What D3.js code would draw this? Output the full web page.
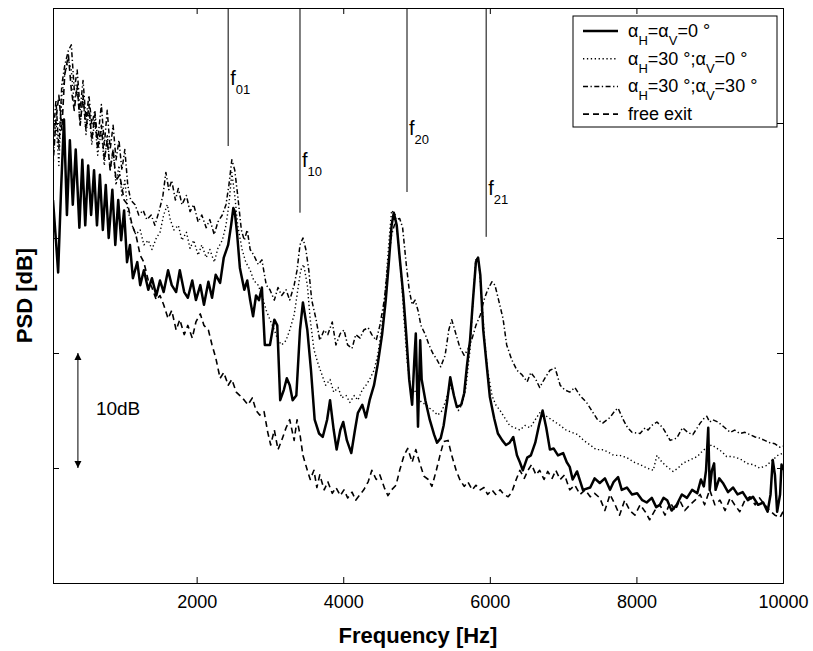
<!DOCTYPE html>
<html>
<head>
<meta charset="utf-8">
<script src="https://cdn.jsdelivr.net/npm/d3@7"></script>
<style>
  body { margin: 0; background: #fff; }
  svg { display: block; font-family: "Liberation Sans", Arial, Helvetica, sans-serif; }
</style>
</head>
<body>
<div id="chart"></div>
<script>
// PSD spectra, [frequency Hz, level dB] (level is relative, axis has no labels)
const flushSpectrum = [[40,33.3],[80,29.8],[110,27.0],[150,34.2],[190,40.3],[230,32.0],[270,38.5],[310,32.9],[350,37.7],[400,30.9],[440,36.8],[480,31.1],[520,36.3],[560,32.0],[600,35.9],[640,31.1],[680,35.5],[720,30.7],[760,34.6],[800,30.0],[850,34.2],[890,29.4],[930,33.3],[970,29.8],[1010,32.4],[1050,27.9],[1090,29.4],[1130,26.5],[1190,27.9],[1230,25.9],[1280,27.2],[1340,25.5],[1390,26.5],[1450,25.0],[1500,26.3],[1550,25.3],[1610,27.2],[1660,25.9],[1720,25.3],[1770,27.2],[1830,25.3],[1880,24.8],[1940,26.3],[1990,24.6],[2050,25.9],[2100,24.2],[2160,26.2],[2210,24.8],[2260,26.8],[2320,26.1],[2370,28.3],[2430,29.4],[2470,31.1],[2500,32.6],[2520,32.3],[2550,30.5],[2590,27.4],[2650,25.5],[2690,26.3],[2730,24.6],[2770,23.2],[2810,25.0],[2850,24.6],[2890,25.7],[2930,20.7],[3000,20.7],[3060,22.9],[3100,22.4],[3140,15.9],[3190,16.8],[3230,17.8],[3270,17.2],[3310,15.9],[3360,16.3],[3410,22.0],[3450,24.4],[3510,22.0],[3560,18.5],[3610,14.2],[3670,13.0],[3720,12.7],[3780,14.2],[3820,15.9],[3870,13.3],[3910,11.6],[3960,13.3],[4000,14.0],[4050,12.4],[4110,11.3],[4160,13.3],[4200,14.8],[4260,15.5],[4310,14.4],[4360,15.9],[4420,17.2],[4470,19.0],[4530,21.6],[4580,24.6],[4620,27.7],[4660,31.1],[4690,32.2],[4730,31.1],[4770,28.3],[4820,25.0],[4860,21.6],[4900,17.7],[4940,15.5],[4970,19.4],[4990,21.7],[5020,13.6],[5050,21.1],[5070,17.7],[5120,15.9],[5180,14.2],[5240,12.9],[5280,12.2],[5330,12.6],[5370,13.7],[5420,15.9],[5460,17.9],[5510,16.3],[5550,15.3],[5610,15.5],[5650,16.5],[5690,19.0],[5730,21.1],[5770,24.6],[5810,27.9],[5840,28.3],[5870,26.8],[5910,22.0],[5950,19.4],[6000,16.2],[6060,14.3],[6110,13.0],[6170,12.4],[6220,12.0],[6270,12.2],[6320,12.7],[6370,11.1],[6410,10.5],[6450,9.8],[6510,10.9],[6560,11.1],[6620,12.2],[6670,13.7],[6720,15.0],[6770,13.5],[6820,11.6],[6870,11.7],[6930,11.1],[7000,11.3],[7050,10.5],[7090,10.1],[7130,9.0],[7190,9.7],[7270,8.1],[7370,8.3],[7430,9.1],[7500,8.7],[7570,9.1],[7640,8.1],[7690,8.8],[7750,9.2],[7800,8.1],[7870,8.3],[7940,7.7],[8010,7.8],[8080,7.2],[8140,7.0],[8210,7.4],[8270,6.6],[8320,6.8],[8370,7.4],[8420,7.2],[8480,6.3],[8550,6.8],[8620,7.7],[8690,7.4],[8760,8.1],[8830,7.8],[8880,9.0],[8920,8.4],[8950,9.8],[8980,13.5],[9000,8.1],[9030,9.8],[9060,10.4],[9080,8.1],[9130,9.1],[9180,8.7],[9250,7.9],[9320,8.3],[9380,7.7],[9450,7.9],[9520,7.2],[9590,7.5],[9660,6.8],[9730,7.0],[9790,6.2],[9830,7.7],[9860,10.7],[9890,9.4],[9920,6.2],[9960,7.7],[9980,10.3],[10000,9.8]];

const tiltHSpectrum = [[40,36.8],[80,40.3],[120,36.3],[160,42.4],[200,44.2],[250,45.5],[290,44.6],[330,41.6],[370,43.3],[410,39.8],[450,42.4],[490,39.0],[530,41.1],[570,38.1],[610,40.3],[650,37.2],[700,39.4],[740,36.3],[780,39.0],[820,35.9],[860,37.7],[900,34.6],[940,36.3],[980,33.7],[1020,35.0],[1060,32.4],[1120,31.1],[1170,30.3],[1230,30.7],[1280,29.4],[1340,29.8],[1390,29.0],[1450,30.0],[1500,30.5],[1550,32.0],[1600,32.9],[1640,31.6],[1690,30.7],[1750,31.1],[1800,29.8],[1860,30.5],[1910,29.1],[1960,29.8],[2020,28.5],[2070,29.4],[2130,28.3],[2180,29.0],[2240,27.9],[2290,29.1],[2350,29.8],[2400,31.1],[2440,32.9],[2480,35.7],[2520,33.7],[2560,31.1],[2620,29.0],[2670,27.9],[2730,27.2],[2780,26.3],[2840,25.9],[2890,25.0],[2950,23.7],[3000,22.9],[3060,22.0],[3110,21.1],[3160,20.7],[3220,21.1],[3270,22.0],[3330,23.3],[3380,25.5],[3420,27.2],[3460,27.7],[3510,25.9],[3550,22.9],[3600,20.3],[3660,19.0],[3710,18.1],[3760,17.2],[3820,17.7],[3870,16.6],[3930,17.0],[3980,16.1],[4040,16.3],[4090,15.7],[4150,16.3],[4200,15.9],[4260,16.8],[4310,17.2],[4360,17.7],[4420,18.5],[4470,19.8],[4530,22.4],[4580,25.9],[4620,29.4],[4660,32.4],[4710,32.0],[4750,29.8],[4790,26.8],[4830,22.9],[4870,19.4],[4910,17.2],[4970,16.8],[5020,16.1],[5070,15.7],[5130,15.5],[5180,15.2],[5240,14.9],[5290,14.6],[5350,15.0],[5400,15.9],[5460,17.2],[5510,16.3],[5570,15.0],[5620,15.5],[5670,16.8],[5730,20.3],[5770,24.6],[5810,28.3],[5850,27.9],[5890,24.6],[5930,21.1],[5970,18.5],[6030,16.3],[6080,15.5],[6140,15.0],[6210,14.3],[6270,13.7],[6340,13.5],[6410,13.3],[6480,13.7],[6550,13.5],[6620,14.2],[6680,14.8],[6750,14.6],[6820,14.3],[6890,14.0],[6960,13.7],[7040,13.3],[7120,13.1],[7200,12.9],[7280,12.4],[7370,12.0],[7450,11.6],[7530,11.6],[7610,11.4],[7690,11.1],[7770,11.1],[7870,10.9],[7970,10.5],[8050,10.3],[8140,10.0],[8230,9.8],[8280,11.1],[8350,10.5],[8420,10.1],[8500,9.7],[8570,10.0],[8630,10.4],[8730,10.7],[8830,11.0],[8890,11.4],[8960,11.8],[9030,12.0],[9100,11.7],[9170,11.4],[9230,11.0],[9300,11.0],[9370,10.9],[9440,10.7],[9510,10.4],[9590,10.3],[9680,10.0],[9770,10.2],[9860,10.7],[9930,11.1],[10000,11.3]];

const tiltHVSpectrum = [[40,38.5],[80,42.0],[120,37.7],[160,43.3],[200,45.0],[250,46.3],[290,46.8],[330,42.9],[370,44.6],[410,41.1],[450,43.7],[490,40.3],[530,42.4],[570,39.8],[610,41.1],[650,38.5],[700,41.6],[740,38.1],[780,41.1],[820,37.7],[860,39.8],[900,36.8],[940,38.5],[980,35.9],[1020,37.7],[1060,34.6],[1100,33.3],[1160,32.9],[1210,32.0],[1270,32.4],[1320,31.6],[1380,32.0],[1430,31.1],[1490,32.4],[1540,33.7],[1580,35.7],[1620,34.2],[1660,35.0],[1710,33.3],[1750,34.3],[1800,32.9],[1860,33.7],[1910,32.3],[1960,32.9],[2020,31.4],[2070,32.0],[2130,30.9],[2180,31.6],[2240,30.3],[2290,31.4],[2350,32.0],[2400,32.9],[2440,34.6],[2480,36.8],[2520,35.9],[2560,33.7],[2610,30.7],[2650,29.8],[2690,30.7],[2730,29.0],[2780,28.5],[2840,27.7],[2890,28.1],[2950,25.9],[3000,25.5],[3060,24.6],[3110,25.7],[3160,25.0],[3220,25.5],[3270,24.6],[3330,25.9],[3370,27.2],[3410,29.4],[3450,30.0],[3490,29.0],[3530,27.2],[3570,24.6],[3630,22.9],[3680,21.1],[3740,22.0],[3790,21.6],[3850,22.7],[3900,20.7],[3960,21.7],[4010,22.0],[4060,20.7],[4120,20.4],[4170,21.6],[4230,21.3],[4280,22.0],[4340,22.2],[4390,21.6],[4450,21.1],[4500,22.4],[4560,24.6],[4610,27.7],[4660,30.3],[4720,31.6],[4770,31.7],[4810,30.9],[4860,27.7],[4900,25.5],[4940,24.2],[4980,24.6],[5020,23.7],[5060,22.4],[5120,21.6],[5170,20.7],[5220,20.0],[5280,19.4],[5330,18.8],[5390,19.8],[5440,22.0],[5480,22.9],[5540,21.6],[5590,20.5],[5650,19.8],[5700,20.3],[5760,21.3],[5810,22.4],[5870,23.3],[5920,24.6],[5970,25.5],[6030,26.2],[6070,25.9],[6120,24.6],[6180,23.0],[6230,20.7],[6300,19.4],[6370,18.5],[6440,18.1],[6510,17.5],[6560,18.3],[6620,17.8],[6680,17.0],[6750,17.8],[6820,18.5],[6890,18.7],[6960,17.2],[7020,16.8],[7090,16.6],[7160,17.0],[7230,16.3],[7320,15.7],[7410,14.8],[7470,14.2],[7540,13.9],[7640,14.4],[7710,15.0],[7750,15.2],[7820,14.2],[7880,13.5],[7940,13.1],[8050,13.0],[8120,13.5],[8160,13.3],[8210,13.7],[8280,14.0],[8360,13.5],[8460,12.4],[8550,12.6],[8630,13.5],[8700,13.1],[8770,12.9],[8870,13.9],[8920,14.3],[8960,14.5],[9000,14.0],[9040,14.2],[9110,14.0],[9170,13.7],[9280,13.1],[9340,13.3],[9410,13.0],[9480,13.1],[9550,12.9],[9620,12.7],[9680,12.6],[9750,12.4],[9820,12.2],[9890,12.1],[9960,11.8],[10000,11.9]];

const freeExitSpectrum = [[40,36.3],[80,40.3],[120,42.4],[160,39.4],[200,44.2],[250,45.9],[290,42.9],[330,41.1],[370,43.3],[410,39.8],[450,42.4],[490,39.4],[530,41.6],[570,38.5],[610,40.7],[650,37.7],[700,39.8],[740,36.8],[780,38.5],[820,35.9],[860,37.7],[900,35.0],[950,35.5],[1010,33.3],[1060,32.9],[1120,31.1],[1170,30.3],[1230,28.5],[1280,27.9],[1340,26.3],[1390,25.7],[1450,24.6],[1500,25.0],[1550,24.2],[1610,23.0],[1660,23.7],[1720,22.0],[1770,22.9],[1830,21.6],[1880,22.4],[1940,21.3],[1990,22.7],[2050,23.4],[2100,22.4],[2160,22.0],[2210,20.7],[2260,19.6],[2320,17.8],[2370,18.3],[2430,17.2],[2480,17.7],[2540,16.6],[2590,16.3],[2650,15.9],[2700,15.5],[2760,16.1],[2810,15.0],[2860,14.6],[2920,14.9],[2970,13.1],[3010,12.0],[3060,13.3],[3110,11.6],[3160,12.4],[3220,13.5],[3270,14.2],[3330,12.4],[3370,14.2],[3410,12.9],[3450,11.1],[3510,9.8],[3550,9.0],[3600,9.8],[3640,8.3],[3680,9.4],[3740,8.1],[3790,8.8],[3850,7.8],[3900,8.3],[3960,7.6],[4010,8.1],[4060,7.4],[4120,7.9],[4170,7.2],[4230,7.7],[4280,8.1],[4340,8.8],[4390,9.8],[4450,9.0],[4500,9.4],[4560,8.3],[4610,7.6],[4660,8.1],[4720,8.5],[4770,9.8],[4830,11.1],[4880,11.7],[4940,10.5],[4990,11.6],[5050,10.3],[5100,9.3],[5160,9.0],[5210,8.4],[5270,9.8],[5320,11.1],[5370,12.3],[5430,12.4],[5480,11.1],[5540,9.8],[5590,9.0],[5650,8.4],[5700,8.8],[5760,8.1],[5810,8.5],[5870,8.1],[5920,8.3],[5970,7.7],[6030,8.1],[6080,7.7],[6140,8.1],[6190,7.7],[6250,7.5],[6300,7.9],[6360,9.0],[6410,9.8],[6470,9.1],[6520,9.8],[6570,10.3],[6630,9.4],[6680,9.8],[6740,9.0],[6790,9.7],[6850,9.1],[6900,9.8],[6960,9.0],[7020,9.4],[7090,8.1],[7160,8.5],[7230,7.7],[7300,8.1],[7370,7.5],[7430,7.8],[7500,7.4],[7570,6.3],[7640,7.7],[7710,6.8],[7770,5.9],[7840,7.2],[7910,6.3],[7980,5.9],[8050,6.8],[8120,6.2],[8180,5.5],[8250,6.3],[8320,6.8],[8390,5.9],[8460,7.0],[8530,6.3],[8590,7.2],[8660,6.3],[8730,6.8],[8800,7.2],[8870,7.7],[8930,6.8],[9000,8.1],[9070,6.8],[9140,7.2],[9210,6.3],[9280,7.4],[9340,6.8],[9410,6.2],[9480,7.2],[9550,7.5],[9620,6.8],[9680,7.4],[9750,6.8],[9820,6.3],[9890,5.9],[9960,5.7],[10000,6.2]];

// acoustic mode markers
const modeNames = ["01", "10", "20", "21"];
const modeHz = [2430, 3410, 4870, 5950];
const modeLineEndDb = [38.0, 32.2, 34.0, 30.1];
const modeLabelDb = [43.3, 36.2, 39.0, 33.7];

const xTicks = [2000, 4000, 6000, 8000, 10000];
const yTicks = [0, 10, 20, 30, 40, 50];

const W = 813, H = 651;
const margin = { left: 53, right: 30, top: 8, bottom: 68 };

const x = d3.scaleLinear().domain([40, 10000]).range([margin.left, W - margin.right]);
const y = d3.scaleLinear().domain([0, 50]).range([H - margin.bottom, margin.top]);

const svg = d3.select("#chart").append("svg")
  .attr("width", W)
  .attr("height", H)
  .style("background", "#fff");

svg.append("defs").append("clipPath").attr("id", "plot-clip")
  .append("rect")
  .attr("x", x.range()[0]).attr("y", y.range()[1])
  .attr("width", x.range()[1] - x.range()[0])
  .attr("height", y.range()[0] - y.range()[1]);

const series = [
  { data: flushSpectrum, width: 2.5, dash: null },
  { data: tiltHSpectrum, width: 1.4, dash: "1.3,2.6" },
  { data: tiltHVSpectrum, width: 1.5, dash: "5,2.5,1.3,2.5" },
  { data: freeExitSpectrum, width: 1.6, dash: "6,4" }
];

const line = d3.line().x(d => x(d[0])).y(d => y(d[1]));

const plot = svg.append("g").attr("clip-path", "url(#plot-clip)");
// draw the thin styles first, solid on top
[3, 2, 1, 0].forEach(i => {
  const s = series[i];
  plot.append("path")
    .datum(s.data)
    .attr("fill", "none")
    .attr("stroke", "#000")
    .attr("stroke-width", s.width)
    .attr("stroke-linejoin", "round")
    .attr("stroke-dasharray", s.dash)
    .attr("d", line);
});

// mode lines
const modes = svg.append("g");
modeHz.forEach((f, i) => {
  modes.append("line")
    .attr("x1", x(f)).attr("x2", x(f))
    .attr("y1", y(50)).attr("y2", y(modeLineEndDb[i]))
    .attr("stroke", "#000").attr("stroke-width", 1);
  const t = modes.append("text")
    .attr("x", x(f) + 2)
    .attr("y", y(modeLabelDb[i]))
    .attr("font-size", 20)
    .text("f");
  t.append("tspan").attr("dy", 9).attr("font-size", 13).text(modeNames[i]);
});

// axes box
const xAxisB = d3.axisBottom(x).tickValues(xTicks).tickSize(-6).tickPadding(12).tickFormat(d3.format("d"));
const xAxisT = d3.axisTop(x).tickValues(xTicks).tickSize(-6).tickFormat("");
const yAxisL = d3.axisLeft(y).tickValues(yTicks).tickSize(-6).tickFormat("");
const yAxisR = d3.axisRight(y).tickValues(yTicks).tickSize(-6).tickFormat("");

function styleAxis(g) {
  g.selectAll("path").attr("stroke", "#000").attr("stroke-width", 1);
  g.selectAll(".tick line").attr("stroke", "#000").attr("stroke-width", 1);
  g.selectAll(".tick text")
    .attr("font-family", "Liberation Sans, Arial, sans-serif")
    .attr("font-size", 18).attr("fill", "#000");
}

svg.append("g").attr("transform", `translate(0,${y(0)})`).call(xAxisB).call(styleAxis);
svg.append("g").attr("transform", `translate(0,${y(50)})`).call(xAxisT).call(styleAxis);
svg.append("g").attr("transform", `translate(${x(40)},0)`).call(yAxisL).call(styleAxis);
svg.append("g").attr("transform", `translate(${x(10000)},0)`).call(yAxisR).call(styleAxis);

// axis titles
svg.append("text")
  .attr("x", (x.range()[0] + x.range()[1]) / 2)
  .attr("y", 643)
  .attr("text-anchor", "middle")
  .attr("font-size", 22).attr("font-weight", "bold")
  .text("Frequency [Hz]");

svg.append("text")
  .attr("transform", `translate(32,${(y.range()[0] + y.range()[1]) / 2}) rotate(-90)`)
  .attr("text-anchor", "middle")
  .attr("font-size", 22).attr("font-weight", "bold")
  .text("PSD [dB]");

// 10 dB scale arrow
const arrowX = x(380);
svg.append("defs").append("marker")
  .attr("id", "arrowhead")
  .attr("viewBox", "0 0 10 10")
  .attr("refX", 10).attr("refY", 5)
  .attr("markerWidth", 7).attr("markerHeight", 8)
  .attr("markerUnits", "userSpaceOnUse")
  .attr("orient", "auto-start-reverse")
  .append("path").attr("d", "M0,0 L10,5 L0,10 z").attr("fill", "#000");

svg.append("line")
  .attr("x1", arrowX).attr("x2", arrowX)
  .attr("y1", y(20)).attr("y2", y(10))
  .attr("stroke", "#000").attr("stroke-width", 1)
  .attr("marker-start", "url(#arrowhead)")
  .attr("marker-end", "url(#arrowhead)");

svg.append("text")
  .attr("x", arrowX + 18)
  .attr("y", y(14.6))
  .attr("font-size", 19)
  .text("10dB");

// legend
const legend = svg.append("g");
legend.append("rect")
  .attr("x", 573).attr("y", 16)
  .attr("width", 204).attr("height", 111)
  .attr("fill", "#fff").attr("stroke", "#000").attr("stroke-width", 1);

const legendLabels = [
  [["α"], ["H", 1], ["=α"], ["V", 1], ["=0 °"]],
  [["α"], ["H", 1], ["=30 °;α"], ["V", 1], ["=0 °"]],
  [["α"], ["H", 1], ["=30 °;α"], ["V", 1], ["=30 °"]],
  [["free exit"]]
];

legendLabels.forEach((parts, i) => {
  const base = 37 + i * 27.7;
  const s = series[i];
  legend.append("line")
    .attr("x1", 583).attr("x2", 618)
    .attr("y1", base - 6).attr("y2", base - 6)
    .attr("stroke", "#000")
    .attr("stroke-width", s.width)
    .attr("stroke-dasharray", s.dash);
  const t = legend.append("text").attr("x", 628).attr("y", base).attr("font-size", 18);
  let shifted = false;
  parts.forEach(p => {
    const ts = t.append("tspan").text(p[0]);
    if (p[1]) { ts.attr("dy", 8).attr("font-size", 13); shifted = true; }
    else if (shifted) { ts.attr("dy", -8); shifted = false; }
  });
});
</script>
</body>
</html>
